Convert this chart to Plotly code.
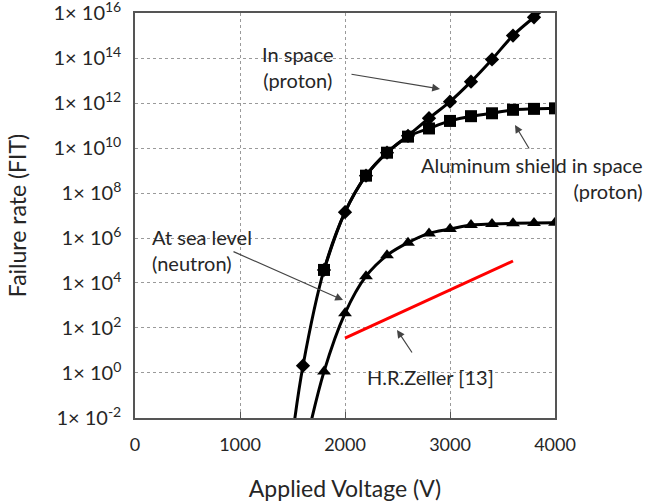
import plotly.graph_objects as go

# ---- data ----
space_x = [1500, 1600, 1800, 2000, 2200, 2400, 2600, 2800, 3000, 3200, 3400, 3600, 3800, 4000]
space_y = [1.6e-3, 2.1, 3.8e4, 1.4e7, 5.9e8, 6.2e9, 3.5e10, 2.1e11, 1.15e12, 8.9e12, 8.7e13, 1.0e15, 6.5e15, 4.0e16]

alum_x = [1800, 2000, 2200, 2400, 2600, 2800, 3000, 3200, 3400, 3600, 3800, 4000]
alum_y = [3.8e4, 1.4e7, 5.9e8, 6.2e9, 3.2e10, 7.4e10, 1.6e11, 2.6e11, 3.5e11, 5.0e11, 5.5e11, 5.8e11]

sea_x = [1600, 1800, 2000, 2200, 2400, 2600, 2800, 3000, 3200, 3400, 3600, 3800, 4000]
sea_y = [1.8e-4, 1.15, 4.5e2, 2.0e4, 1.7e5, 6.2e5, 1.6e6, 2.5e6, 3.8e6, 4.2e6, 4.5e6, 4.7e6, 4.8e6]

zeller_x = [2000, 3600]
zeller_y = [35, 9.5e4]

x_ticks = [0, 1000, 2000, 3000, 4000]
y_exps = [-2, 0, 2, 4, 6, 8, 10, 12, 14, 16]

FONT = "Lato"
TXT = "#262626"

fig = go.Figure()
fig.add_trace(go.Scatter(x=space_x, y=space_y, mode="lines+markers",
                         line=dict(color="black", width=3, shape="spline", smoothing=1),
                         marker=dict(symbol="diamond", size=11, color="black")))
# aluminium: line through all points, square markers where the reference shows them
fig.add_trace(go.Scatter(x=alum_x, y=alum_y, mode="lines",
                         line=dict(color="black", width=3, shape="spline", smoothing=1)))
alum_mx = [x for x in alum_x if x != 2000]
alum_my = [y for x, y in zip(alum_x, alum_y) if x != 2000]
fig.add_trace(go.Scatter(x=alum_mx, y=alum_my, mode="markers",
                         marker=dict(symbol="square", size=12, color="black", opacity=1)))
fig.add_trace(go.Scatter(x=sea_x, y=sea_y, mode="lines+markers",
                         line=dict(color="black", width=3, shape="spline", smoothing=1),
                         marker=dict(symbol="triangle-up", size=12, color="black")))
fig.add_trace(go.Scatter(x=zeller_x, y=zeller_y, mode="lines",
                         line=dict(color="#ff0000", width=3)))

ann_font = dict(family=FONT, size=20, color=TXT)

W, H = 646, 502
L, R, T, B = 135, 91, 13, 84
def px(x, y):
    return (x - L) / (W - L - R), 1 - (y - T) / (H - T - B)

def text(x, y, s, align="center", xanchor="center"):
    pxx, pyy = px(x, y)
    fig.add_annotation(x=pxx, y=pyy, xref="paper", yref="paper", text=s, showarrow=False,
                       font=ann_font, align=align, xanchor=xanchor, yanchor="middle")

text(297, 67, "In space<br>(proton)")
text(532, 178, "Aluminum shield in space<br>(proton)", align="right", xanchor="center")
text(150, 250, "At sea level<br>(neutron)", align="left", xanchor="left")
text(430, 377, "H.R.Zeller [13]")

def arr(tx, ty, hx, hy):
    hxp, hyp = px(hx, hy)
    fig.add_annotation(x=hxp, y=hyp, xref="paper", yref="paper",
                       ax=tx - hx, ay=ty - hy, text="", showarrow=True,
                       arrowhead=2, arrowsize=1.3, arrowwidth=1.2, arrowcolor="#444")

arr(350, 74, 440, 89)
arr(530, 150, 515, 125)
arr(232, 251, 343, 300)
arr(413, 354, 397, 330)

fig.update_layout(
    width=W, height=H, margin=dict(l=L, r=R, t=T, b=B),
    paper_bgcolor="white", plot_bgcolor="white", showlegend=False,
    font=dict(family=FONT, color=TXT),
)
fig.update_xaxes(range=[0, 4000], tickvals=x_ticks, ticktext=[str(v) for v in x_ticks],
                 showgrid=True, gridcolor="#9a9a9a", griddash="dot", gridwidth=1,
                 showline=True, linecolor="#555", linewidth=1.5, mirror=True,
                 ticks="inside", ticklen=6, tickcolor="#555", zeroline=False,
                 ticklabelstandoff=10, automargin=False,
                 tickfont=dict(family=FONT, size=18, color=TXT),
                 title=dict(text="Applied Voltage (V)", font=dict(family=FONT, size=23, color=TXT), standoff=28))
fig.update_yaxes(type="log", range=[-2.002, 16.002], tickvals=[10.0 ** e for e in y_exps],
                 ticktext=[f"1\u00d7 10<sup>{e}</sup>" for e in y_exps],
                 showgrid=True, gridcolor="#9a9a9a", griddash="dot", gridwidth=1,
                 showline=True, linecolor="#555", linewidth=1.5, mirror=True,
                 ticks="", zeroline=False, ticklabelstandoff=8, ticklabeloverflow="allow",
                 automargin=False,
                 tickfont=dict(family=FONT, size=20, color=TXT),
                 title=dict(text="Failure rate (FIT)", font=dict(family=FONT, size=23, color=TXT), standoff=20))

fig.write_html("out.html")
